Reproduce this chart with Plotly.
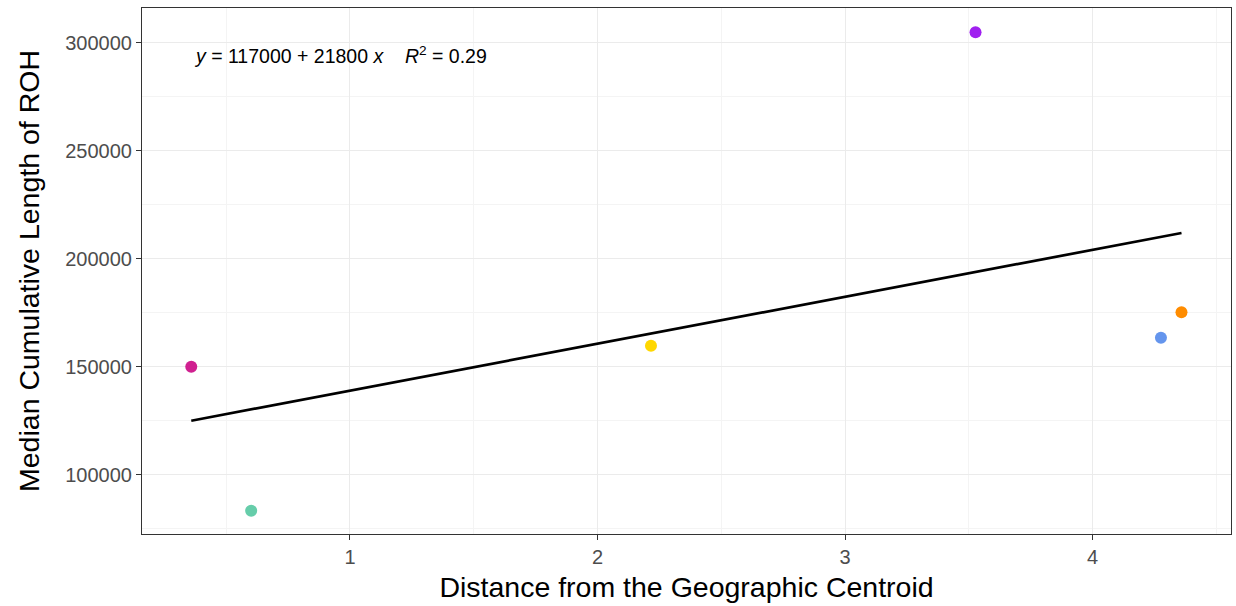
import numpy as np
import plotly.graph_objects as go

# Data
distance = [0.359, 0.601, 2.216, 3.527, 4.276, 4.359]
median_roh = [150000, 83300, 159700, 304800, 163400, 175200]
point_colors = ["#D02090", "#66CDAA", "#FFD700", "#A020F0", "#6495ED", "#FF8C00"]
x_ticks = [1, 2, 3, 4]
y_ticks = [100000, 150000, 200000, 250000, 300000]
eq_text = ("<i>y</i>&nbsp;=&nbsp;117000&nbsp;+&nbsp;21800&nbsp;<i>x</i>&nbsp;&nbsp;&nbsp;&nbsp;"
           "<i>R</i><sup>2</sup>&nbsp;=&nbsp;0.29")

slope, intercept = np.polyfit(distance, median_roh, 1)
x_line = [min(distance), max(distance)]
y_line = [intercept + slope * v for v in x_line]

fig = go.Figure()
fig.add_trace(go.Scatter(x=x_line, y=y_line, mode="lines",
                         line=dict(color="black", width=2.7), showlegend=False,
                         hoverinfo="skip"))
fig.add_trace(go.Scatter(x=distance, y=median_roh, mode="markers",
                         marker=dict(color=point_colors, size=12, line=dict(width=0)),
                         showlegend=False))

fig.add_annotation(x=0.360, y=294300, xref="x", yref="y", text=eq_text,
                   showarrow=False, xanchor="left", yanchor="middle",
                   font=dict(size=19.5, color="black", family="Liberation Sans, Arial, sans-serif"))

axis_common = dict(
    showline=True, mirror=True, linecolor="#333333", linewidth=1.2,
    ticks="outside", ticklen=5, tickwidth=1.2, tickcolor="#333333",
    showgrid=True, gridcolor="#EBEBEB", gridwidth=1.2,
    minor=dict(showgrid=True, gridcolor="#F4F4F4", gridwidth=0.8),
    zeroline=False,
    tickfont=dict(size=20, color="#4D4D4D"),
    automargin=False,
)

fig.update_xaxes(range=[0.160, 4.559], tickvals=x_ticks,
                 minor_tickvals=[0.5, 1.5, 2.5, 3.5, 4.5],
                 title=dict(text="Distance from the Geographic Centroid",
                            font=dict(size=28.5, color="black"), standoff=9),
                 **axis_common)
fig.update_yaxes(range=[72546, 316065], tickvals=y_ticks,
                 tickformat="d",
                 minor_tickvals=[75000, 125000, 175000, 225000, 275000],
                 title=dict(text="Median Cumulative Length of ROH",
                            font=dict(size=28.5, color="black"), standoff=17),
                 **axis_common)

fig.update_layout(
    width=1236, height=606,
    margin=dict(l=142, r=5, t=8, b=72),
    plot_bgcolor="white", paper_bgcolor="white",
    font=dict(family="Liberation Sans, Arial, Helvetica, sans-serif"),
)

fig.write_html("out.html", config={"displayModeBar": False},
               post_script="document.body.style.margin='0';document.body.style.overflow='hidden';")
